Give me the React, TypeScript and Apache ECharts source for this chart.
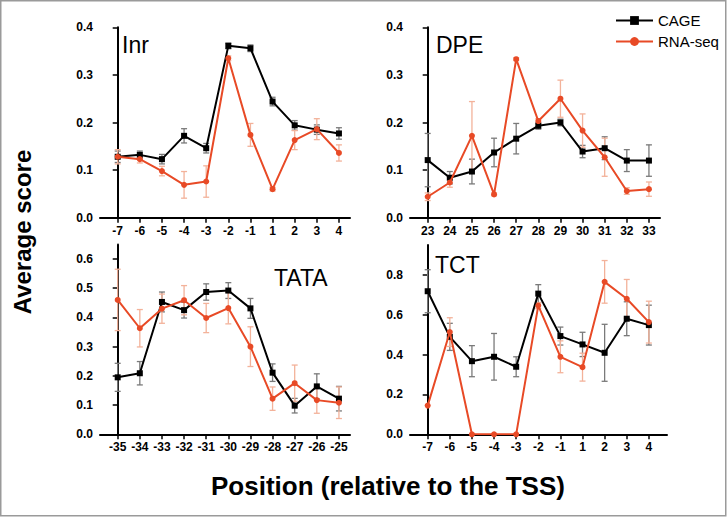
import React, { useEffect, useRef } from "react";
import * as echarts from "echarts";

const inrCats = ["-7", "-6", "-5", "-4", "-3", "-2", "-1", "1", "2", "3", "4"];
const inrCage = [0.128, 0.132, 0.123, 0.172, 0.146, 0.361, 0.356, 0.244, 0.194, 0.185, 0.177];
const inrCageErr = [0.012, 0.008, 0.01, 0.015, 0.01, 0.006, 0.007, 0.009, 0.01, 0.01, 0.012];
const inrRna = [0.128, 0.123, 0.098, 0.069, 0.076, 0.335, 0.174, 0.06, 0.163, 0.186, 0.136];
const inrRnaErr = [0.015, 0.008, 0.01, 0.028, 0.033, 0.005, 0.024, 0.004, 0.02, 0.022, 0.017];

const dpeCats = ["23", "24", "25", "26", "27", "28", "29", "30", "31", "32", "33"];
const dpeCage = [0.121, 0.084, 0.097, 0.137, 0.166, 0.193, 0.2, 0.139, 0.146, 0.12, 0.12];
const dpeCageErr = [0.056, 0.013, 0.026, 0.03, 0.032, 0.007, 0.007, 0.013, 0.024, 0.023, 0.033];
const dpeRna = [0.044, 0.074, 0.172, 0.049, 0.333, 0.203, 0.25, 0.183, 0.127, 0.056, 0.06];
const dpeRnaErr = [0.008, 0.01, 0.072, 0.003, 0.003, 0.005, 0.039, 0.035, 0.04, 0.007, 0.015];

const tataCats = ["-35", "-34", "-33", "-32", "-31", "-30", "-29", "-28", "-27", "-26", "-25"];
const tataCage = [0.195, 0.209, 0.453, 0.425, 0.487, 0.492, 0.431, 0.211, 0.098, 0.164, 0.122];
const tataCageErr = [0.048, 0.04, 0.034, 0.027, 0.028, 0.027, 0.034, 0.03, 0.025, 0.043, 0.042];
const tataRna = [0.46, 0.363, 0.43, 0.459, 0.398, 0.432, 0.3, 0.122, 0.175, 0.117, 0.108];
const tataRnaErr = [0.105, 0.064, 0.05, 0.05, 0.05, 0.054, 0.068, 0.04, 0.062, 0.045, 0.054];

const tctCats = ["-7", "-6", "-5", "-4", "-3", "-2", "-1", "1", "2", "3", "4"];
const tctCage = [0.718, 0.489, 0.367, 0.389, 0.339, 0.706, 0.493, 0.451, 0.409, 0.58, 0.548];
const tctCageErr = [0.108, 0.068, 0.078, 0.117, 0.05, 0.045, 0.045, 0.061, 0.143, 0.085, 0.1];
const tctRna = [0.144, 0.513, 0, 0, 0, 0.646, 0.389, 0.337, 0.765, 0.68, 0.563];
const tctRnaErr = [0, 0.072, 0, 0, 0, 0.015, 0.08, 0.07, 0.107, 0.097, 0.105];

const panelTitles = ["Inr", "DPE", "TATA", "TCT"];
const yMaxes = [0.4, 0.4, 0.65, 0.95];
const yTickVals = [
  [0, 0.1, 0.2, 0.3, 0.4],
  [0, 0.1, 0.2, 0.3, 0.4],
  [0, 0.1, 0.2, 0.3, 0.4, 0.5, 0.6],
  [0, 0.2, 0.4, 0.6, 0.8],
];

const FONT = "'Liberation Sans', Arial, sans-serif";
const BLACK = "#000000";
const RED = "#e84a26";
const BLACK_ERR = "#7a7a7a";
const RED_ERR = "#f3b29a";

export default function App() {
  const ref = useRef<HTMLDivElement>(null);

  useEffect(() => {
    if (!ref.current) return;
    const chart = echarts.init(ref.current, null, { renderer: "svg" });

    const panels = [
      { cats: inrCats, cage: inrCage, cageErr: inrCageErr, rna: inrRna, rnaErr: inrRnaErr },
      { cats: dpeCats, cage: dpeCage, cageErr: dpeCageErr, rna: dpeRna, rnaErr: dpeRnaErr },
      { cats: tataCats, cage: tataCage, cageErr: tataCageErr, rna: tataRna, rnaErr: tataRnaErr },
      { cats: tctCats, cage: tctCage, cageErr: tctCageErr, rna: tctRna, rnaErr: tctRnaErr },
    ];

    const grids = [
      { left: 100, top: 27.3, width: 250, height: 190.4 },
      { left: 410, top: 27.3, width: 250, height: 190.4 },
      { left: 100, top: 244.4, width: 250, height: 189.9 },
      { left: 410, top: 245, width: 257, height: 189.3 },
    ];
    const xMaxes = [10.5, 10.5, 10.5, 10.82];

    const idx = inrCats.map((_, i) => i);

    const errRender = (color: string) => (params: any, api: any) => {
      const x = api.value(0);
      const lo = api.value(1);
      const hi = api.value(2);
      if (hi - lo <= 0) return null;
      const p1 = api.coord([x, lo]);
      const p2 = api.coord([x, hi]);
      const w = 3;
      const st = { stroke: color, lineWidth: 1.3 };
      return {
        type: "group",
        children: [
          { type: "line", shape: { x1: p1[0], y1: p1[1], x2: p2[0], y2: p2[1] }, style: st },
          { type: "line", shape: { x1: p1[0] - w, y1: p1[1], x2: p1[0] + w, y2: p1[1] }, style: st },
          { type: "line", shape: { x1: p2[0] - w, y1: p2[1], x2: p2[0] + w, y2: p2[1] }, style: st },
        ],
      };
    };

    const xAxes: any[] = [];
    const yAxes: any[] = [];
    const series: any[] = [];

    panels.forEach((p, k) => {
      xAxes.push({
        type: "value",
        gridIndex: k,
        min: -0.8,
        max: xMaxes[k],
        splitLine: { show: false },
        axisLine: { show: true, onZero: false, lineStyle: { color: BLACK, width: 2 } },
        axisTick: { show: true, length: 5, customValues: idx, lineStyle: { color: BLACK, width: 1.5 } },
        axisLabel: {
          customValues: idx,
          formatter: (v: number) => p.cats[Math.round(v)] ?? "",
          color: BLACK,
          fontWeight: "bold",
          fontSize: 12,
          fontFamily: FONT,
          margin: 7,
        },
      });
      yAxes.push({
        type: "value",
        gridIndex: k,
        min: 0,
        max: yMaxes[k],
        splitLine: { show: false },
        axisLine: { show: true, lineStyle: { color: BLACK, width: 2 } },
        axisTick: { show: true, length: 5, customValues: yTickVals[k], lineStyle: { color: BLACK, width: 1.5 } },
        axisLabel: {
          customValues: yTickVals[k],
          formatter: (v: number) => v.toFixed(1),
          color: BLACK,
          fontWeight: "bold",
          fontSize: 12,
          fontFamily: FONT,
          margin: 7,
        },
      });

      series.push({
        type: "custom",
        xAxisIndex: k,
        yAxisIndex: k,
        renderItem: errRender(BLACK_ERR),
        data: p.cage.map((v, i) => [i, v - p.cageErr[i], v + p.cageErr[i]]),
        z: 1,
        silent: true,
      });
      series.push({
        type: "custom",
        xAxisIndex: k,
        yAxisIndex: k,
        renderItem: errRender(RED_ERR),
        data: p.rna.map((v, i) => [i, v - p.rnaErr[i], v + p.rnaErr[i]]),
        z: 1,
        silent: true,
      });
      series.push({
        name: "CAGE",
        type: "line",
        xAxisIndex: k,
        yAxisIndex: k,
        data: p.cage.map((v, i) => [i, v]),
        symbol: "rect",
        symbolSize: 6,
        lineStyle: { color: BLACK, width: 2 },
        itemStyle: { color: BLACK },
        z: 3,
      });
      series.push({
        name: "RNA-seq",
        type: "line",
        xAxisIndex: k,
        yAxisIndex: k,
        data: p.rna.map((v, i) => [i, v]),
        symbol: "circle",
        symbolSize: 6,
        lineStyle: { color: RED, width: 2 },
        itemStyle: { color: RED },
        z: 4,
      });
    });

    const titlePos = [
      { x: 122, y: 56.5 },
      { x: 436, y: 56 },
      { x: 274, y: 289.5 },
      { x: 435, y: 276 },
    ];

    chart.setOption({
      animation: false,
      backgroundColor: "#ffffff",
      grid: grids.map((g) => ({ ...g, containLabel: false })),
      xAxis: xAxes,
      yAxis: yAxes,
      series,
      legend: {
        data: ["CAGE", "RNA-seq"],
        orient: "vertical",
        left: 610,
        top: 8,
        itemWidth: 37,
        itemHeight: 11,
        itemGap: 6,
        textStyle: { fontSize: 15, fontFamily: FONT, color: BLACK },
        selectedMode: false,
      },
      graphic: [
        {
          type: "rect",
          shape: { x: 0.75, y: 0.75, width: 725, height: 515 },
          style: { fill: "none", stroke: "#9a9a9a", lineWidth: 1.5 },
          silent: true,
        },
        ...panelTitles.map((t, k) => ({
          type: "text",
          x: titlePos[k].x,
          y: titlePos[k].y,
          style: {
            text: t,
            fontSize: 23,
            fontFamily: FONT,
            fill: BLACK,
            textAlign: "left",
            textVerticalAlign: "bottom",
          },
        })),
        {
          type: "text",
          x: 22,
          y: 232,
          rotation: Math.PI / 2,
          style: {
            text: "Average score",
            fontSize: 24,
            fontWeight: "bold",
            fontFamily: FONT,
            fill: BLACK,
            textAlign: "center",
            textVerticalAlign: "middle",
          },
        },
        {
          type: "text",
          x: 388,
          y: 486,
          style: {
            text: "Position (relative to the TSS)",
            fontSize: 26,
            fontWeight: "bold",
            fontFamily: FONT,
            fill: BLACK,
            textAlign: "center",
            textVerticalAlign: "middle",
          },
        },
      ],
    });

    return () => chart.dispose();
  }, []);

  return (
    <div
      ref={ref}
      style={{ position: "fixed", left: 0, top: 0, width: 728, height: 518 }}
    />
  );
}
